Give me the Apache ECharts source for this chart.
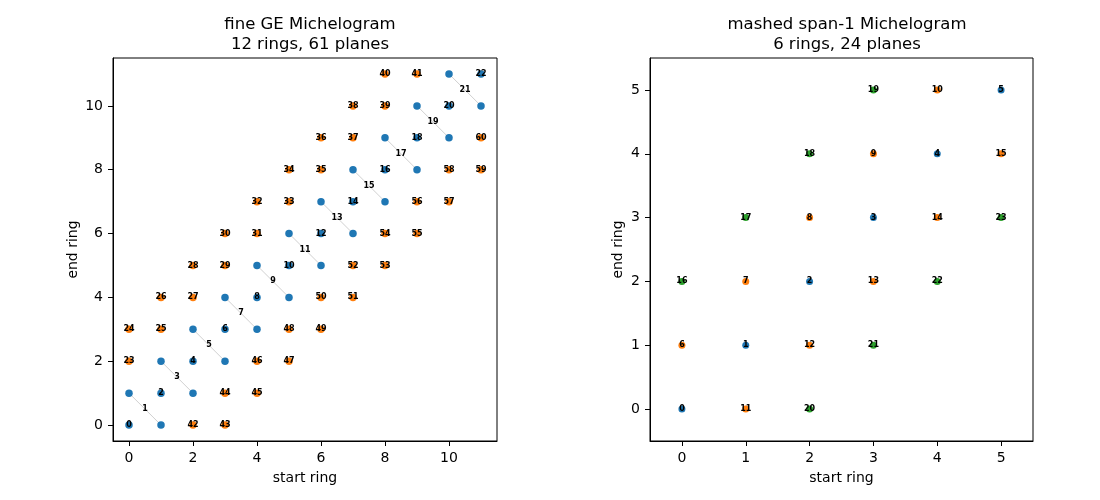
<!DOCTYPE html>
<html>
<head>
<meta charset="utf-8">
<script src="https://cdn.jsdelivr.net/npm/echarts@6/dist/echarts.min.js"></script>
<style>
  html, body { margin: 0; padding: 0; background: #fff; }
  #main { width: 1100px; height: 500px; }
</style>
</head>
<body>
<div id="main"></div>
<script>
// [start ring, end ring, plane]
const fineDirect = [[0,0,0],[1,1,2],[2,2,4],[3,3,6],[4,4,8],[5,5,10],[6,6,12],[7,7,14],[8,8,16],[9,9,18],[10,10,20],[11,11,22]]
// [ring a, ring b, plane] -> points (a,b) and (b,a), label between them
const finePairs = [[0,1,1],[1,2,3],[2,3,5],[3,4,7],[4,5,9],[5,6,11],[6,7,13],[7,8,15],[8,9,17],[9,10,19],[10,11,21]]
const fineOblique = [
  [0,2,23],[0,3,24],[1,3,25],[1,4,26],[2,4,27],[2,5,28],[3,5,29],[3,6,30],[4,6,31],[4,7,32],
  [5,7,33],[5,8,34],[6,8,35],[6,9,36],[7,9,37],[7,10,38],[8,10,39],[8,11,40],[9,11,41],
  [2,0,42],[3,0,43],[3,1,44],[4,1,45],[4,2,46],[5,2,47],[5,3,48],[6,3,49],[6,4,50],[7,4,51],
  [7,5,52],[8,5,53],[8,6,54],[9,6,55],[9,7,56],[10,7,57],[10,8,58],[11,8,59],[11,9,60]
]
const mashDirect = [[0,0,0],[1,1,1],[2,2,2],[3,3,3],[4,4,4],[5,5,5]]
const mashSpan1 = [[0,1,6],[1,2,7],[2,3,8],[3,4,9],[4,5,10],[1,0,11],[2,1,12],[3,2,13],[4,3,14],[5,4,15]]
const mashSpan2 = [[0,2,16],[1,3,17],[2,4,18],[3,5,19],[2,0,20],[3,1,21],[4,2,22],[5,3,23]]

const fineTicks = [0, 2, 4, 6, 8, 10]
const mashTicks = [0, 1, 2, 3, 4, 5]

const FONT = 'DejaVu Sans'
const BLUE = '#1f77b4', ORANGE = '#ff7f0e', GREEN = '#2ca02c'

const chart = echarts.init(document.getElementById('main'))

function axis(gi, ticks, max, name, gap, isY) {
  return {
    type: 'value', gridIndex: gi, min: -0.5, max: max,
    name: name, nameLocation: 'middle', nameGap: gap,
    nameTextStyle: { fontFamily: FONT, fontSize: 14, color: '#000' },
    splitLine: { show: false },
    axisLine: { show: true, onZero: false, lineStyle: { color: '#000', width: 1 } },
    axisTick: { show: true, customValues: ticks, length: 5, lineStyle: { color: '#000' } },
    axisLabel: { customValues: ticks, fontFamily: FONT, fontSize: 14, color: '#000', margin: 10 }
  }
}

const labelStyle = {
  show: true, position: 'inside', fontFamily: FONT, fontSize: 8, fontWeight: 'bold', color: '#000',
  formatter: p => String(p.value[2])
}

function pts(gi, data, color, size, z) {
  return {
    type: 'scatter', xAxisIndex: gi, yAxisIndex: gi, data: data,
    symbolSize: size, itemStyle: { color: color, opacity: 1 },
    label: labelStyle, z: z, silent: true
  }
}

const pairPoints = []
finePairs.forEach(p => { pairPoints.push([p[0], p[1], '']); pairPoints.push([p[1], p[0], '']) })
const pairMid = finePairs.map(p => [(p[0] + p[1]) / 2, (p[0] + p[1]) / 2, p[2]])
const pairLines = finePairs.map(p => ({ coords: [[p[0], p[1]], [p[1], p[0]]] }))

const titleStyle = { fontFamily: FONT, fontSize: 16.5, fontWeight: 'normal', color: '#000', lineHeight: 20 }

const option = {
  animation: false,
  title: [
    { text: 'fine GE Michelogram\n12 rings, 61 planes', left: 305, top: 10, textAlign: 'center', textStyle: titleStyle },
    { text: 'mashed span-1 Michelogram\n6 rings, 24 planes', left: 842, top: 10, textAlign: 'center', textStyle: titleStyle }
  ],
  grid: [
    { left: 113, top: 58, width: 384, height: 383, show: true, borderColor: '#000', borderWidth: 1 },
    { left: 650, top: 58, width: 383, height: 383, show: true, borderColor: '#000', borderWidth: 1 }
  ],
  xAxis: [
    axis(0, fineTicks, 11.5, 'start ring', 30, false),
    axis(1, mashTicks, 5.5, 'start ring', 30, false)
  ],
  yAxis: [
    axis(0, fineTicks, 11.5, 'end ring', 33, true),
    axis(1, mashTicks, 5.5, 'end ring', 25, true)
  ],
  series: [
    {
      type: 'lines', coordinateSystem: 'cartesian2d', xAxisIndex: 0, yAxisIndex: 0,
      data: pairLines, lineStyle: { color: '#c4c4c4', width: 0.8, opacity: 1 }, z: 1, silent: true
    },
    pts(0, pairPoints, BLUE, 7.5, 2),
    pts(0, fineDirect, BLUE, 7.5, 2),
    pts(0, fineOblique, ORANGE, 7.5, 3),
    pts(0, pairMid, 'transparent', 0, 4),
    pts(1, mashDirect, BLUE, 7, 2),
    pts(1, mashSpan1, ORANGE, 7, 3),
    pts(1, mashSpan2, GREEN, 7, 4)
  ]
}
chart.setOption(option)
</script>
</body>
</html>
